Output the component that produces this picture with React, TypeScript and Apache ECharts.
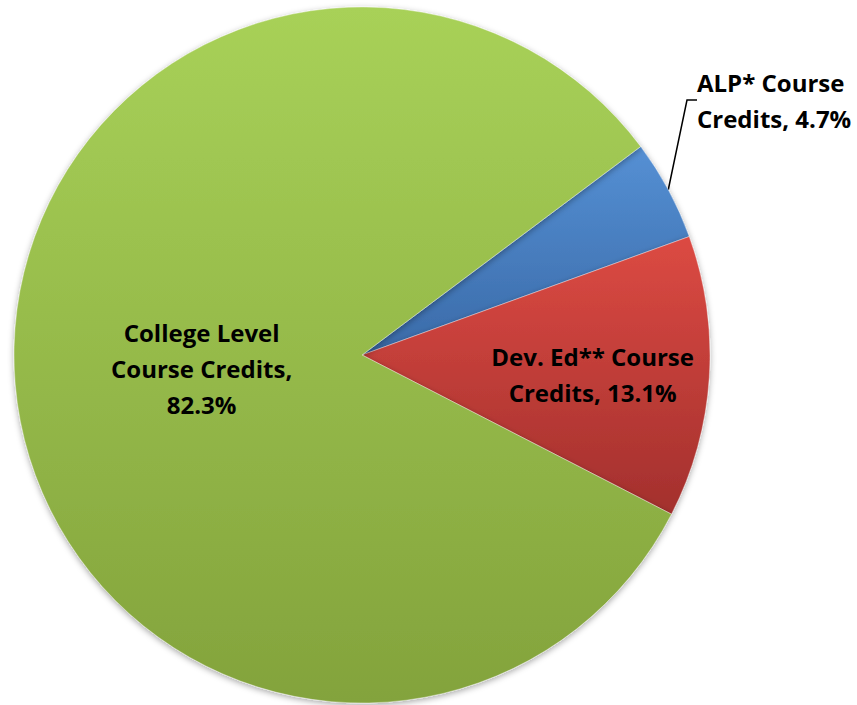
import React, { useEffect, useRef } from "react";
import * as echarts from "echarts";

const categories = ["ALP* Course Credits", "Dev. Ed** Course Credits", "College Level Course Credits"];
const values = [4.7, 13.1, 82.3];
const labelTexts = ["ALP* Course\nCredits, 4.7%", "Dev. Ed** Course\nCredits, 13.1%", "College Level\nCourse Credits,\n82.3%"];

const grad = (top: string, bottom: string) =>
  new echarts.graphic.LinearGradient(0, 0, 0, 1, [
    { offset: 0, color: top },
    { offset: 1, color: bottom },
  ]);

export default function App() {
  const ref = useRef<HTMLDivElement>(null);
  useEffect(() => {
    if (!ref.current) return;
    const chart = echarts.init(ref.current, null, { renderer: "svg" });
    const colors = [
      grad("#5590d4", "#3a6aa8"),
      grad("#dc4a43", "#a3302d"),
      grad("#a8d158", "#83a33c"),
    ];
    const labelCfg = [
      { position: "outside", align: "left" },
      { position: "inside", offset: [54, 8] },
      { position: "inside", offset: [16, -1] },
    ];
    chart.setOption({
      animation: false,
      backgroundColor: "#ffffff",
      series: [
        {
          type: "pie",
          center: [362, 355],
          radius: 348,
          startAngle: 36.8,
          clockwise: true,
          avoidLabelOverlap: false,
          itemStyle: {
            borderColor: "rgba(255,255,255,0.35)",
            borderWidth: 1,
            shadowBlur: 6,
            shadowColor: "rgba(0,0,0,0.35)",
            shadowOffsetY: 2,
          },
          label: {
            fontFamily: "Open Sans",
            fontWeight: "bold",
            fontSize: 24,
            lineHeight: 36,
            color: "#000",
            align: "center",
          },
          labelLine: {
            show: true,
            length: 20,
            length2: 10,
            lineStyle: { color: "#000", width: 1.5 },
          },
          labelLayout: (params: any) => {
            if (params.dataIndex === 0) {
              return { x: 697, y: 100, align: "left", verticalAlign: "middle" };
            }
            return {};
          },
          data: categories.map((name, i) => ({
            name,
            value: values[i],
            itemStyle: { color: colors[i] },
            label: {
              ...labelCfg[i],
              formatter: () => labelTexts[i],
            },
            labelLine: { show: i === 0 },
          })),
        },
      ],
    });
    return () => chart.dispose();
  }, []);
  return (
    <div
      ref={ref}
      style={{ position: "fixed", left: 0, top: 0, width: 857, height: 705 }}
    />
  );
}
